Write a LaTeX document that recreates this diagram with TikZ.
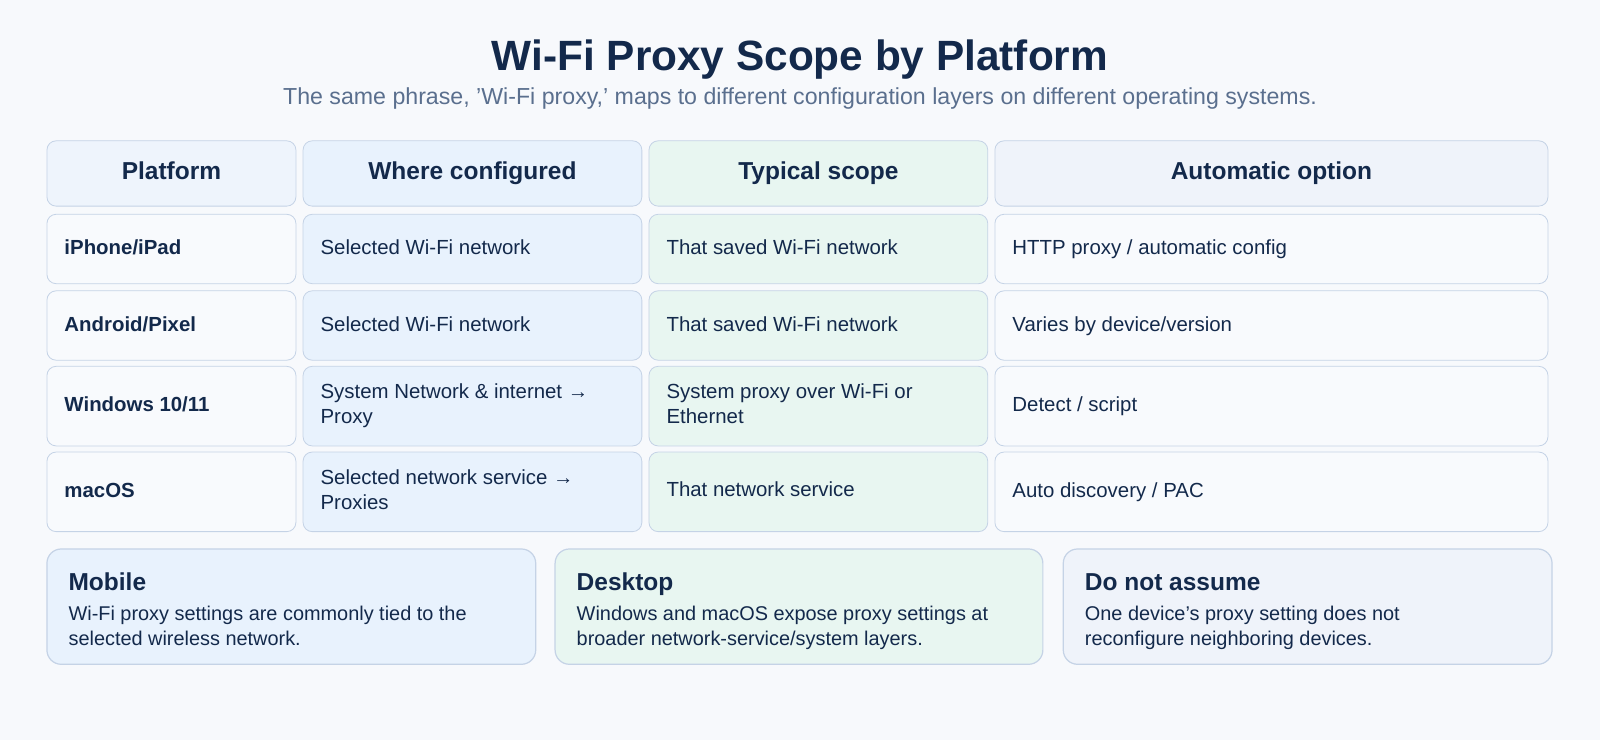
\documentclass[tikz,border=0pt]{standalone}
\usepackage{fontspec}
\setmainfont{Liberation Sans}
\begin{document}
\definecolor{bg}{HTML}{F7F9FC}
\definecolor{navy}{HTML}{13294B}
\definecolor{sub}{HTML}{5A6F8E}
\definecolor{bd}{HTML}{C5D3E6}
\definecolor{cA}{HTML}{EEF4FC}
\definecolor{cB}{HTML}{E8F2FD}
\definecolor{cC}{HTML}{E8F6F1}
\definecolor{cD}{HTML}{EFF3FA}
\definecolor{wA}{HTML}{F8FAFD}
\begin{tikzpicture}[x=1pt,y=-1pt,
 cell/.style={draw=bd,line width=0.8pt,rounded corners=9pt},
 hd/.style={font=\fontsize{24}{28}\selectfont\bfseries,text=navy,text height=17pt,text depth=5pt},
 tx/.style={font=\fontsize{20}{25}\selectfont,text=navy,anchor=west,align=left,inner sep=0pt},
 bx/.style={font=\fontsize{20}{25}\selectfont\bfseries,text=navy,anchor=west,align=left,inner sep=0pt,text height=15pt,text depth=4pt}]
\fill[bg] (0,0) rectangle (1568,725);
\useasboundingbox (0,0) rectangle (1568,725);
\node[font=\fontsize{41.5}{46}\selectfont\bfseries,text=navy] (title) at (784,58) {Wi-Fi Proxy Scope by Platform};
\node[font=\fontsize{22.7}{26}\selectfont,text=sub] (subtitle) at (784,97) {The same phrase, \char"0027 Wi-Fi proxy,\char"0027\ maps to different configuration layers on different operating systems.};
\def\xa{46}\def\xb{290}\def\xc{297}\def\xd{629}\def\xe{636}\def\xf{968}\def\xg{975}\def\xh{1517}
\filldraw[cell,fill=cA] (\xa,138) rectangle (\xb,202);
\filldraw[cell,fill=cB] (\xc,138) rectangle (\xd,202);
\filldraw[cell,fill=cC] (\xe,138) rectangle (\xf,202);
\filldraw[cell,fill=cD] (\xg,138) rectangle (\xh,202);
\node[hd] (h1) at (168,170) {Platform};
\node[hd] (h2) at (463,170) {Where configured};
\node[hd] (h3) at (802,170) {Typical scope};
\node[hd] (h4) at (1246,170) {Automatic option};
\foreach \ya/\yb/\n/\p/\w/\s/\a/\one in {
 210/278/r1/{iPhone/iPad}/{Selected Wi-Fi network}/{That saved Wi-Fi network}/{HTTP proxy / automatic config}/1,
 285/353/r2/{Android/Pixel}/{Selected Wi-Fi network}/{That saved Wi-Fi network}/{Varies by device/version}/1,
 359/437/r3/{Windows 10/11}/{System Network \& internet →\\Proxy}/{System proxy over Wi-Fi or\\Ethernet}/{Detect / script}/0,
 443/521/r4/{macOS}/{Selected network service →\\Proxies}/{That network service}/{Auto discovery / PAC}/0}{
 \filldraw[cell,fill=wA] (\xa,\ya) rectangle (\xb,\yb);
 \filldraw[cell,fill=cB] (\xc,\ya) rectangle (\xd,\yb);
 \filldraw[cell,fill=cC] (\xe,\ya) rectangle (\xf,\yb);
 \filldraw[cell,fill=wA] (\xg,\ya) rectangle (\xh,\yb);
 \node[bx] (\n a) at (\xa+17,{(\ya+\yb)/2}) {\p};
 \node[tx,text height=15pt,text depth=4pt] (\n d) at (\xg+17,{(\ya+\yb)/2}) {\a};
 \ifnum\one=1
 \node[tx,text height=15pt,text depth=4pt] (\n b) at (\xc+17,{(\ya+\yb)/2}) {\w};
 \node[tx,text height=15pt,text depth=4pt] (\n c) at (\xe+17,{(\ya+\yb)/2}) {\s};
 \else
 \node[tx] (\n b) at (\xc+17,{(\ya+\yb)/2}) {\strut\w\strut};
 \node[tx] (\n c) at (\xe+17,{(\ya+\yb)/2}) {\strut\s\strut};
 \fi
}
\foreach \xl/\xr/\c/\n/\t/\b in {
 46/525/cB/m/Mobile/{Wi-Fi proxy settings are commonly tied to the\\selected wireless network.},
 544/1022/cC/d/Desktop/{Windows and macOS expose proxy settings at\\broader network-service/system layers.},
 1042/1521/cD/n/Do not assume/{One device\char"0027 s proxy setting does not\\reconfigure neighboring devices.}}{
 \filldraw[draw=bd,line width=1.2pt,rounded corners=14pt,fill=\c] (\xl,538) rectangle (\xr,651);
 \node[anchor=base west,inner sep=0pt,font=\fontsize{24}{28}\selectfont\bfseries,text=navy] (\n t) at (\xl+21,579) {\t};
 \node[anchor=north west,align=left,inner sep=0pt,font=\fontsize{19.5}{24}\selectfont,text=navy] (\n b) at (\xl+21,594) {\b};
}
\end{tikzpicture}
\end{document}
